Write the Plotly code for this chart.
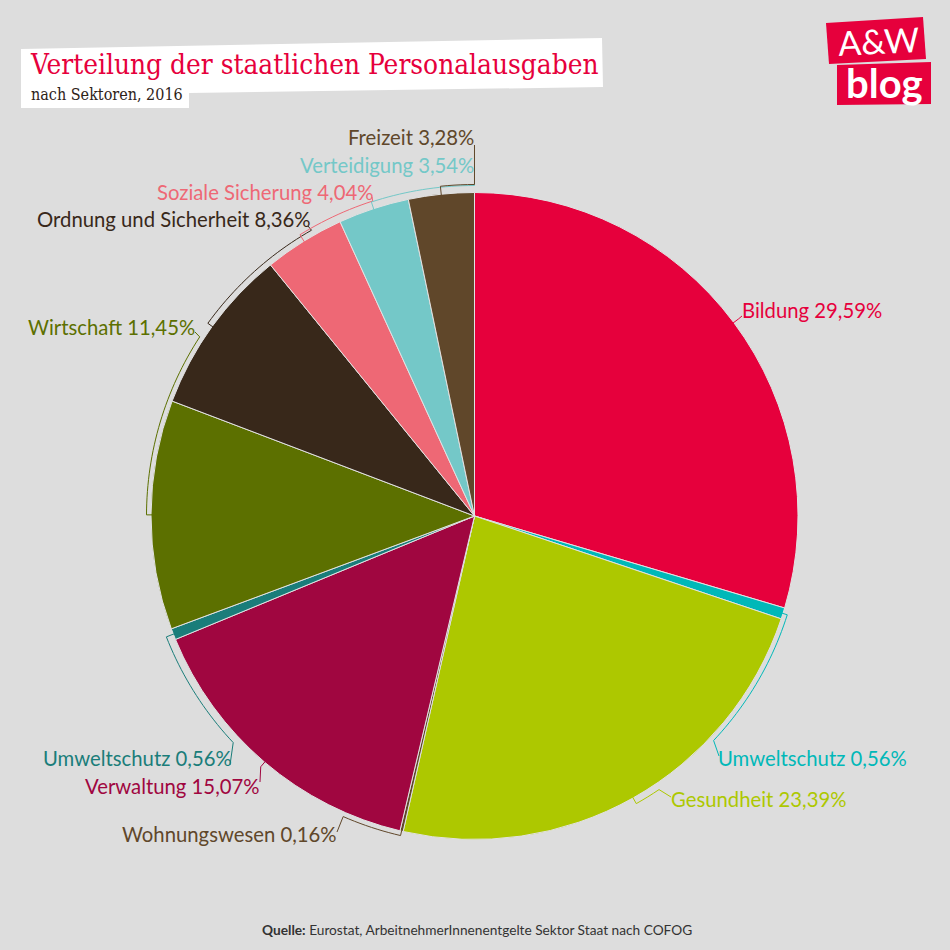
import math
import plotly.graph_objects as go

W = 950
sectors = ["Bildung", "Umweltschutz", "Gesundheit", "Wohnungswesen", "Verwaltung", "Umweltschutz",
           "Wirtschaft", "Ordnung und Sicherheit", "Soziale Sicherung", "Verteidigung", "Freizeit"]
shares = [29.59, 0.56, 23.39, 0.16, 15.07, 0.56, 11.45, 8.36, 4.04, 3.54, 3.28]
colors = ["#e6003c", "#00b8b8", "#adc800", "#60472a", "#a00640", "#1a7d7a",
          "#5c7000", "#38281a", "#ee6875", "#74c8c8", "#60472a"]
# label anchor (x, y centre, side of the anchor)
label_pos = [(742, 310, "left"), (718, 758, "left"), (671, 799, "left"), (337, 834, "right"),
             (260, 786, "right"), (232, 758, "right"), (195, 327, "right"), (311, 219, "right"),
             (373, 192, "right"), (474, 165, "right"), (474, 137, "right")]
# leader: arc end angle (deg clockwise from top, None = no arc), radius, end point of the leader
leaders = [(None, 331, (742, 316)), (133.2, 328, (719, 756)), (146.0, 330, (671, 797)), (203.6, 328, (337, 832)),
           (None, 330, (260, 782)), (226.8, 331, (230, 765)), (303.1, 328, (195, 332)), (330.3, 329, (308, 226)),
           (342.1, 331, (372, 197)), (360.0, 330.5, (474.5, 178)), (360.0, 331.5, (474.5, 145))]

CX, CY, R = 474.5, 516.0, 323.5

px = lambda x: x / W
py = lambda y: 1 - y / W

def pt(angle, r):
    a = math.radians(angle)
    return CX + r * math.sin(a), CY - r * math.cos(a)

def pth(points):
    return "M " + " L ".join(f"{px(x):.5f},{py(y):.5f}" for x, y in points)

def poly(points, color):
    return dict(type="path", xref="paper", yref="paper", path=pth(points) + " Z",
                fillcolor=color, line=dict(width=0), layer="above")

fig = go.Figure(go.Pie(
    values=shares, labels=[f"{s} {i}" for i, s in enumerate(sectors)],
    sort=False, direction="clockwise", rotation=0,
    marker=dict(colors=colors, line=dict(color="#e2e2e2", width=1)),
    textinfo="none", hoverinfo="none", showlegend=False,
    domain=dict(x=[(CX - R) / W, (CX + R) / W], y=[1 - (CY + R) / W, 1 - (CY - R) / W]),
))

shapes = []
annots = []
cum = 0.0
LABEL_FONT = "Lato"
for name, v, c, (lx, ly, side), (end, r, tip) in zip(sectors, shares, colors, label_pos, leaders):
    mid = (cum + v / 2) * 3.6
    cum += v
    pts = [pt(mid, R - 1), pt(mid, r if end is not None else R + 6)]
    if end is not None:
        n = max(2, int(abs(end - mid)))
        pts += [pt(mid + (end - mid) * i / n, r) for i in range(1, n + 1)]
    pts.append(tip)
    shapes.append(dict(type="path", xref="paper", yref="paper", path=pth(pts),
                       line=dict(color=c, width=1), layer="above"))
    txt = f"{name} {v:.2f}".replace(".", ",") + "%"
    annots.append(dict(xref="paper", yref="paper", x=px(lx), y=py(ly), text=txt, showarrow=False,
                       xanchor=side, yanchor="middle", borderpad=0, borderwidth=0,
                       font=dict(family=LABEL_FONT, size=20.3, color=c)))

# title plate and logo
shapes.append(poly([(21, 49), (602, 38), (603, 87), (189, 93), (189, 108), (21, 108)], "#ffffff"))
shapes.append(poly([(826, 23), (923, 17), (926, 59), (829, 64)], "#e6003c"))
shapes.append(poly([(837, 65), (931, 62), (931, 104), (837, 105)], "#e6003c"))

annots += [
    dict(xref="paper", yref="paper", x=px(29), y=py(65), text="Verteilung der staatlichen Personalausgaben",
         showarrow=False, xanchor="left", yanchor="middle", borderpad=0,
         font=dict(family="DejaVu Serif Condensed", size=27.75, color="#e6003c")),
    dict(xref="paper", yref="paper", x=px(30), y=py(94), text="nach Sektoren, 2016",
         showarrow=False, xanchor="left", yanchor="middle", borderpad=0,
         font=dict(family="DejaVu Serif Condensed", size=16, color="#2e2318")),
    dict(xref="paper", yref="paper", x=px(477), y=py(929),
         text="<b>Quelle:</b> Eurostat, ArbeitnehmerInnenentgelte Sektor Staat nach COFOG",
         showarrow=False, xanchor="center", yanchor="middle", borderpad=0,
         font=dict(family="Lato", size=13.7, color="#333333")),
    dict(xref="paper", yref="paper", x=px(878), y=py(41), text="A&amp;W", textangle=-3,
         showarrow=False, xanchor="center", yanchor="middle", borderpad=0,
         font=dict(family="Lato", size=34, color="#ffffff")),
    dict(xref="paper", yref="paper", x=px(884), y=py(83), text="<b>blog</b>",
         showarrow=False, xanchor="center", yanchor="middle", borderpad=0,
         font=dict(family="Lato", size=40, color="#ffffff")),
]

fig.update_layout(width=W, height=W, margin=dict(l=0, r=0, t=0, b=0, pad=0),
                  paper_bgcolor="#dddddd", plot_bgcolor="#dddddd",
                  shapes=shapes, annotations=annots)
fig.write_html("out.html", config=dict(displayModeBar=False),
               post_script="document.body.style.margin='0';document.body.style.background='#dddddd';document.documentElement.style.overflow='hidden';")
